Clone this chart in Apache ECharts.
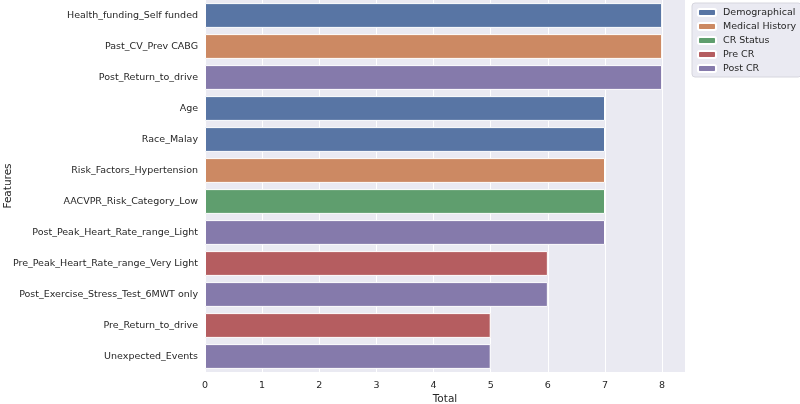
<!DOCTYPE html>
<html>
<head>
<meta charset="utf-8">
<script src="https://cdn.jsdelivr.net/npm/echarts@6/dist/echarts.min.js"></script>
<style>
  html, body { margin: 0; padding: 0; background: #fff; }
  #chart { width: 800px; height: 404px; }
</style>
</head>
<body>
<div id="chart"></div>
<script>
// features top to bottom, their totals and their group
const features = [
    "Health_funding_Self funded",
    "Past_CV_Prev CABG",
    "Post_Return_to_drive",
    "Age",
    "Race_Malay",
    "Risk_Factors_Hypertension",
    "AACVPR_Risk_Category_Low",
    "Post_Peak_Heart_Rate_range_Light",
    "Pre_Peak_Heart_Rate_range_Very Light",
    "Post_Exercise_Stress_Test_6MWT only",
    "Pre_Return_to_drive",
    "Unexpected_Events"
];
const totals = [8, 8, 8, 7, 7, 7, 7, 7, 6, 6, 5, 5];
const featureGroup = [
    "Demographical", "Medical History", "Post CR", "Demographical", "Demographical",
    "Medical History", "CR Status", "Post CR", "Pre CR", "Post CR", "Pre CR", "Post CR"
];
const groups = ["Demographical", "Medical History", "CR Status", "Pre CR", "Post CR"];
const groupColors = ["#5875a4", "#cc8963", "#5f9e6e", "#b55d60", "#857aab"];

const chart = echarts.init(document.getElementById("chart"));

// one series per group, empty where the feature belongs elsewhere
const series = groups.map((g, gi) => ({
    name: g,
    type: "bar",
    stack: "all",
    barWidth: "80%",
    data: totals.map((v, i) => (featureGroup[i] === g ? v : null)),
    itemStyle: {
        color: groupColors[gi],
        borderColor: "#fff",
        borderWidth: 1
    }
}));

chart.setOption({
    backgroundColor: "#fff",
    textStyle: { fontFamily: "DejaVu Sans" },
    grid: { left: 205, right: 115, top: 0, bottom: 32, containLabel: false,
            outerBoundsMode: "none",
            show: true, backgroundColor: "#eaeaf2", borderWidth: 0 },
    legend: {
        orient: "vertical",
        left: 692,
        top: 3,
        data: groups,
        itemWidth: 18,
        itemHeight: 7,
        itemGap: 1,
        padding: [3, 5, 2, 5],
        backgroundColor: "#eaeaf2",
        borderColor: "#d6d6de",
        borderWidth: 1,
        borderRadius: 3,
        textStyle: { fontSize: 9.5, color: "#262626", lineHeight: 13,
                     padding: [0, 0, 0, 2], fontFamily: "DejaVu Sans" }
    },
    xAxis: {
        type: "value",
        min: 0,
        max: 8.4,
        interval: 1,
        name: "Total",
        nameLocation: "middle",
        nameGap: 22,
        nameMoveOverlap: false,
        nameTextStyle: { fontSize: 10.5, color: "#262626" },
        axisLine: { show: false },
        axisTick: { show: false },
        axisLabel: { fontSize: 9.5, color: "#262626", margin: 9, showMaxLabel: false,
                     formatter: (v) => (Number.isInteger(v) ? v : "") },
        splitLine: { show: true, lineStyle: { color: "#fff", width: 1 } }
    },
    yAxis: {
        type: "category",
        data: features,
        inverse: true,
        name: "Features",
        nameLocation: "middle",
        nameGap: 191,
        nameRotate: 90,
        nameMoveOverlap: false,
        nameTextStyle: { fontSize: 10.5, color: "#262626" },
        axisLine: { show: false },
        axisTick: { show: false },
        axisLabel: { fontSize: 9.5, color: "#262626", margin: 7 },
        splitLine: { show: false }
    },
    series: series
});
</script>
</body>
</html>
